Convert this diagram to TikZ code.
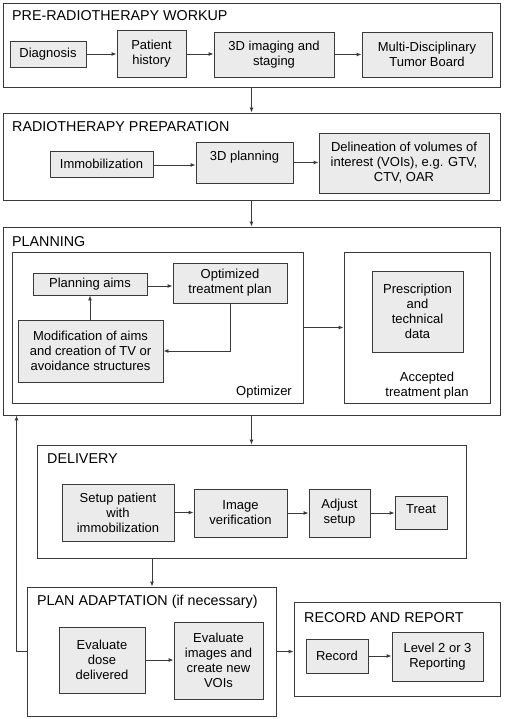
\documentclass[tikz,border=0pt]{standalone}
\usepackage{fontspec}
\setmainfont{Liberation Sans}
\usetikzlibrary{arrows.meta,calc}
\definecolor{boxfill}{HTML}{EBEBEB}
\definecolor{edge}{HTML}{3A3A3A}
\begin{document}
\begin{tikzpicture}[x=1pt,y=-1pt,
  container/.style={draw=edge,line width=0.9pt,fill=white,inner sep=0pt},
  stepbox/.style={draw=edge,line width=0.9pt,fill=boxfill,align=center,inner sep=1pt,
    font=\fontsize{13}{15}\selectfont},
  title/.style={anchor=west,inner sep=0pt,font=\fontsize{14.3}{16}\selectfont},
  plain/.style={align=center,inner sep=0pt,font=\fontsize{13}{15}\selectfont},
  arr/.style={draw=edge,line width=0.9pt,-{Latex[length=5pt,width=4pt]}},
]
\useasboundingbox (0,0) rectangle (504,719);
% containers
\node[container,minimum width=497pt,minimum height=84pt] (pre) at (251.5,45) {};
\node[container,minimum width=497pt,minimum height=87pt] (prep) at (251.5,156.5) {};
\node[container,minimum width=497pt,minimum height=188pt] (plan) at (251.5,321) {};
\node[container,minimum width=291pt,minimum height=151pt] (optim) at (157.5,327.5) {};
\node[container,minimum width=146pt,minimum height=151pt] (accept) at (417,327.5) {};
\node[container,minimum width=429pt,minimum height=113pt] (deliv) at (251.5,501.5) {};
\node[container,minimum width=249pt,minimum height=129pt] (adapt) at (152,651.5) {};
\node[container,minimum width=206pt,minimum height=94pt] (recrep) at (397,649) {};
% titles
\node[title] (t1) at (12,16) {PRE-RADIOTHERAPY WORKUP};
\node[title] (t2) at (12,127) {RADIOTHERAPY PREPARATION};
\node[title] (t3) at (12,242) {PLANNING};
\node[title] (t4) at (47,459) {DELIVERY};
\node[title] (t5) at (37,602) {PLAN ADAPTATION (if necessary)};
\node[title] (t6) at (304,618) {RECORD AND REPORT};
% pre-radiotherapy workup
\node[stepbox,minimum width=76pt,minimum height=26pt] (diag) at (48,54) {Diagnosis};
\node[stepbox,minimum width=69pt,minimum height=47pt] (hist) at (151.5,53.5) {Patient\\history};
\node[stepbox,minimum width=120pt,minimum height=45pt] (img) at (274,54.5) {3D imaging and\\staging};
\node[stepbox,minimum width=130pt,minimum height=45pt] (mdt) at (427,54.5) {Multi-Disciplinary\\Tumor Board};
% preparation
\node[stepbox,minimum width=103pt,minimum height=26pt] (immo) at (101.5,164) {Immobilization};
\node[stepbox,minimum width=97pt,minimum height=41pt] (p3d) at (244.5,162.5) {};
\node[plain] (p3dt) at (244.5,157) {3D planning};
\node[stepbox,minimum width=170pt,minimum height=60pt] (vois) at (404,163) {Delineation of volumes of\\interest (VOIs), e.g. GTV,\\CTV, OAR};
% planning
\node[stepbox,minimum width=114pt,minimum height=22pt] (aims) at (90,284) {Planning aims};
\node[stepbox,minimum width=114pt,minimum height=40pt] (opt) at (230,283) {Optimized\\treatment plan};
\node[stepbox,minimum width=145pt,minimum height=62pt] (mod) at (90.5,351) {Modification of aims\\and creation of TV or\\avoidance structures};
\node[plain] (optl) at (264,392) {Optimizer};
\node[stepbox,minimum width=91pt,minimum height=81pt] (presc) at (417.5,311.5) {Prescription\\and\\technical\\data};
\node[plain] (accl) at (427,386) {Accepted\\treatment plan};
% delivery
\node[stepbox,minimum width=112pt,minimum height=57pt] (setup) at (118,512.5) {Setup patient\\with\\immobilization};
\node[stepbox,minimum width=93pt,minimum height=48pt] (imgv) at (240.5,513) {Image\\verification};
\node[stepbox,minimum width=61pt,minimum height=48pt] (adj) at (339.5,513) {Adjust\\setup};
\node[stepbox,minimum width=52pt,minimum height=33pt] (treat) at (421,512.5) {};
\node[plain] (treatt) at (421,509.5) {Treat};
% adaptation
\node[stepbox,minimum width=86pt,minimum height=66pt] (evdose) at (102,660) {Evaluate\\dose\\delivered};
\node[stepbox,minimum width=89pt,minimum height=77pt] (evimg) at (218.5,660.5) {Evaluate\\images and\\create new\\VOIs};
% record
\node[stepbox,minimum width=62pt,minimum height=34pt] (rec) at (337,656) {Record};
\node[stepbox,minimum width=91pt,minimum height=49pt] (rep) at (437.5,656.5) {Level 2 or 3\\Reporting};
% connectors
\draw[arr] (diag.east) -- (diag.east -| hist.west);
\draw[arr] ([yshift=-0.5pt]hist.east) -- ([yshift=-0.5pt]hist.east -| img.west);
\draw[arr] (img.east) -- (img.east -| mdt.west);
\draw[arr] (pre.south) -- (prep.north);
\draw[arr] ([yshift=-1pt]immo.east) -- ([yshift=-1pt]immo.east -| p3d.west);
\draw[arr] (p3d.east) -- (p3d.east -| vois.west);
\draw[arr] (prep.south) -- (plan.north);
\draw[arr] ([yshift=-2pt]aims.east) -- ([yshift=-2pt]aims.east -| opt.west);
\draw[arr] (mod.north -| aims.south) -- (aims.south);
\draw[arr] (opt.south) |- (mod.east);
\draw[arr] (optim.east) -- (accept.west);
\draw[arr] (plan.south) -- (deliv.north);
\draw[arr] (setup.east) -- (setup.east -| imgv.west);
\draw[arr] (imgv.east) -- (imgv.east -| adj.west);
\draw[arr] (adj.east) -- (adj.east -| treat.west);
\coordinate (dtop) at (deliv.south -| adapt.north);
\draw[arr] (dtop) -- (adapt.north);
\coordinate (fb) at ($(plan.south west)+(14,0)$);
\draw[arr] (adapt.west) -| (fb);
\draw[arr] (evdose.east) -- (evdose.east -| evimg.west);
\draw[arr] (adapt.east) -- (adapt.east -| recrep.west);
\draw[arr] (rec.east) -- (rec.east -| rep.west);
\end{tikzpicture}
\end{document}
